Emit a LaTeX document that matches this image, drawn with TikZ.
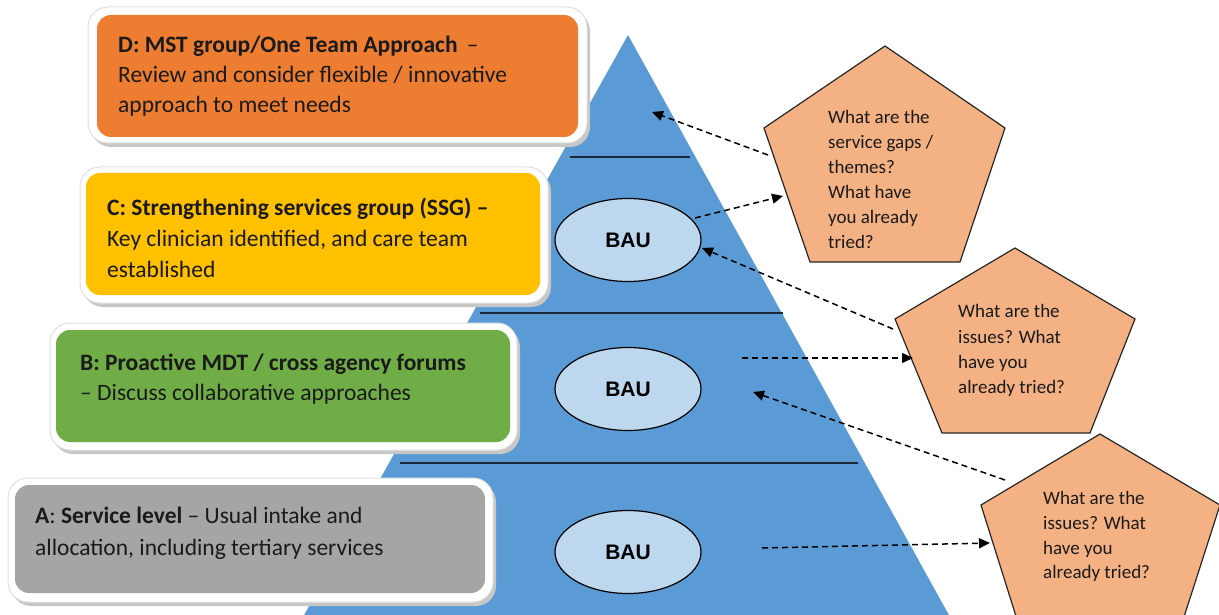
\documentclass[tikz,border=0pt]{standalone}
\usepackage{fontspec}
\setmainfont{Carlito}
\newfontfamily\baufont{Liberation Sans}
\usetikzlibrary{arrows.meta,shapes.geometric}
\definecolor{pyr}{HTML}{5B9BD5}
\definecolor{cD}{HTML}{ED7D31}
\definecolor{cC}{HTML}{FFC000}
\definecolor{cB}{HTML}{70AD47}
\definecolor{cA}{HTML}{A5A5A5}
\definecolor{ell}{HTML}{BDD7EE}
\definecolor{pent}{HTML}{F4B183}
\definecolor{sep}{HTML}{1B2837}
\definecolor{txt}{HTML}{1A1A1A}
\newcommand\lvlbox[9]{%
  \fill[black!22, rounded corners=20] (#1+3,#2+4) rectangle (#3+3,#4+4);
  \draw[black!12, line width=1, fill=white, rounded corners=20] (#1,#2) rectangle (#3,#4);
  \fill[#9, rounded corners=14] (#5,#6) rectangle (#7,#8);
}
\begin{document}
\begin{tikzpicture}[x=1pt,y=-1pt,
  boxtxt/.style={anchor=base west, inner sep=0, text=txt, font=\fontsize{23.5}{28}\selectfont},
  pentxt/.style={anchor=base west, inner sep=0, text=txt, font=\fontsize{19}{22}\selectfont},
  bau/.style={ellipse, draw=black, line width=1.2, fill=ell, minimum width=146, minimum height=83, inner sep=0, font=\baufont\bfseries\fontsize{21}{24}\selectfont},
  pentshape/.style={fill=pent, draw=black!85, line width=1.2},
  sepline/.style={draw=sep, line width=2},
  dasharrow/.style={draw=black, line width=1.5, dash pattern=on 6pt off 4pt, -{Triangle[length=11pt,width=10pt]}}
]
\useasboundingbox (0,0) rectangle (1219,615);
\begin{scope}
\clip (0,0) rectangle (1219,615);
% pyramid
\fill[pyr] (628,35) -- (950,617) -- (303,617) -- cycle;
\path[sepline] (570,157) -- (690,157);
\path[sepline] (480,313) -- (783,313);
\path[sepline] (400,463) -- (858,463);

% boxes
\lvlbox{88}{7}{587}{143}{97}{15}{578}{137}{cD}
\lvlbox{80}{167}{548}{303}{86}{173}{540}{295}{cC}
\lvlbox{50}{323}{517}{450}{56}{330}{510}{442}{cB}
\lvlbox{8}{478}{493}{602}{15}{485}{485}{593}{cA}

\node[boxtxt] (d1) at (118,53) {\textbf{D: MST group/One Team Approach} \,–};
\node[boxtxt] (d2) at (118,83) {Review and consider flexible / innovative};
\node[boxtxt] (d3) at (118,113) {approach to meet needs};

\node[boxtxt] (c1) at (107,215) {\textbf{C: Strengthening services group (SSG) –}};
\node[boxtxt] (c2) at (107,247) {Key clinician identified, and care team};
\node[boxtxt] (c3) at (107,277) {established};

\node[boxtxt] (b1) at (80,370) {\textbf{B: Proactive MDT / cross agency forums}};
\node[boxtxt] (b2) at (80,400) {– Discuss collaborative approaches};

\node[boxtxt] (a1) at (35,523) {\textbf{A}: \textbf{Service level} – Usual intake and};
\node[boxtxt] (a2) at (35,555) {allocation, including tertiary services};

% BAU ellipses
\node[bau] (bau1) at (628,240) {BAU};
\node[bau] (bau2) at (628,389) {BAU};
\node[bau] (bau3) at (628,552) {BAU};

% pentagons
\path[pentshape] (885,46) -- (1005,128) -- (960,262) -- (810,262) -- (764,128) -- cycle;
\path[pentshape] (1015,248) -- (1135,319) -- (1090,433) -- (942,433) -- (895,319) -- cycle;
\path[pentshape] (1100,434) -- (1220,505) -- (1174,648) -- (1026,648) -- (981,505) -- cycle;

\node[pentxt] (p1a) at (828,123.3) {What are the};
\node[pentxt] (p1b) at (828,148.3) {service gaps /};
\node[pentxt] (p1c) at (828,173.3) {themes?};
\node[pentxt] (p1d) at (828,198.3) {What have};
\node[pentxt] (p1e) at (828,223.3) {you already};
\node[pentxt] (p1f) at (828,248.3) {tried?};

\node[pentxt] (p2a) at (958,317) {What are the};
\node[pentxt] (p2b) at (958,343) {issues? What};
\node[pentxt] (p2c) at (958,368) {have you};
\node[pentxt] (p2d) at (958,393) {already tried?};

\node[pentxt] (p3a) at (1043,504) {What are the};
\node[pentxt] (p3b) at (1043,529) {issues? What};
\node[pentxt] (p3c) at (1043,554) {have you};
\node[pentxt] (p3d) at (1043,578) {already tried?};

% arrow end points
\coordinate (t1) at (768,155); \coordinate (h1) at (652,112);
\coordinate (t2) at (695,218); \coordinate (h2) at (783,196);
\coordinate (t3) at (893,329); \coordinate (h3) at (702,248);
\coordinate (t4) at (742,358); \coordinate (h4) at (913,358);
\coordinate (t5) at (1005,480); \coordinate (h5) at (753,392);
\coordinate (t6) at (762,548); \coordinate (h6) at (990,543);
\draw[dasharrow] (t1) -- (h1);
\draw[dasharrow] (t2) -- (h2);
\draw[dasharrow] (t3) -- (h3);
\draw[dasharrow] (t4) -- (h4);
\draw[dasharrow] (t5) -- (h5);
\draw[dasharrow] (t6) -- (h6);
\end{scope}
\end{tikzpicture}
\end{document}
